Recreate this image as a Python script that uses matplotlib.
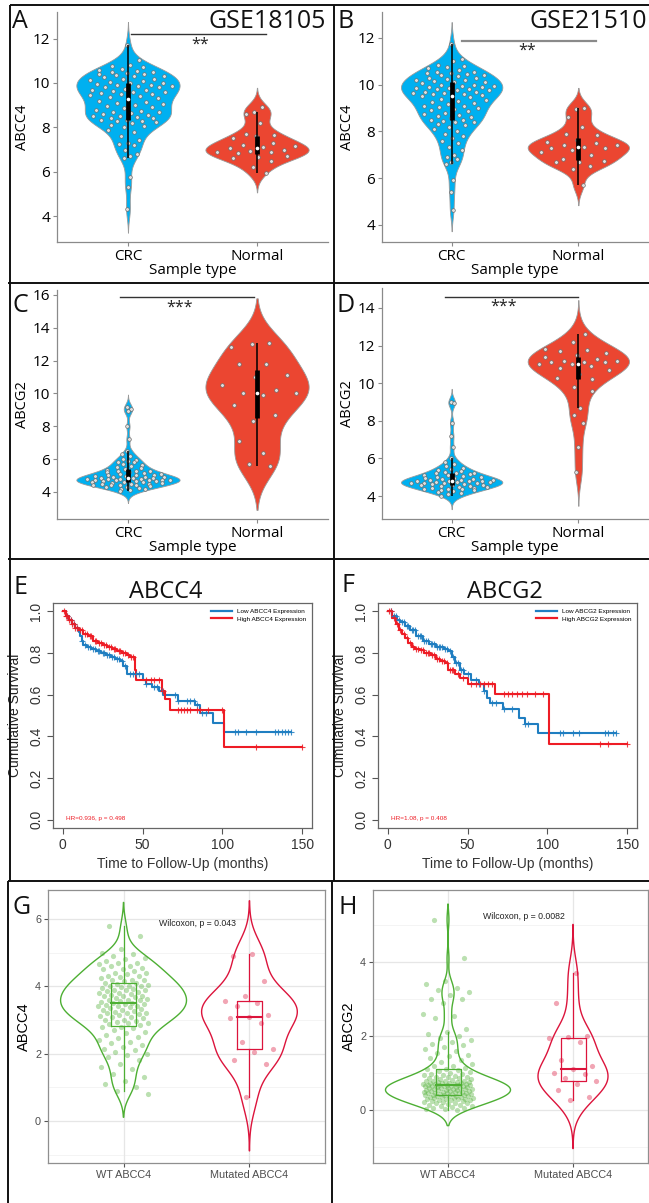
import numpy as np
import matplotlib
matplotlib.use('Agg')
import matplotlib.pyplot as plt
from matplotlib.lines import Line2D

# ---------------- DATA ----------------
sample_types = ['CRC', 'Normal']

# Panel A  (GSE18105, ABCC4)
a_crc = [11.7, 11.05, 10.8, 10.75, 10.7, 10.65, 10.6, 10.55, 10.5, 10.5, 10.45, 10.4, 10.4, 10.35, 10.3,
         10.3, 10.25, 10.2, 10.2, 10.15, 10.1, 10.05, 10.0, 10.0, 9.95, 9.9, 9.9, 9.85, 9.85, 9.8, 9.8,
         9.75, 9.7, 9.7, 9.65, 9.6, 9.6, 9.55, 9.5, 9.5, 9.45, 9.4, 9.35, 9.3, 9.25, 9.2, 9.15, 9.1, 9.05,
         9.0, 8.95, 8.9, 8.85, 8.8, 8.75, 8.7, 8.7, 8.65, 8.6, 8.55, 8.5, 8.5, 8.45, 8.4, 8.4, 8.35, 8.35,
         8.3, 8.3, 8.25, 8.2, 8.1, 8.05, 8.0, 7.9, 7.8, 7.6, 7.45, 7.3, 7.25, 7.2, 7.0, 6.8, 6.7, 6.6,
         5.75, 5.3, 4.3]
a_norm = [8.9, 8.7, 8.6, 8.2, 7.7, 7.65, 7.6, 7.5, 7.3, 7.2, 7.15, 7.1, 7.05, 7.0, 6.95, 6.9, 6.9, 6.85,
          6.7, 6.65, 6.6, 6.5, 6.2, 5.95]

# Panel B  (GSE21510, ABCC4)
b_crc = [11.75, 11.1, 11.0, 10.85, 10.8, 10.75, 10.7, 10.6, 10.55, 10.55, 10.5, 10.5, 10.45, 10.4, 10.4,
         10.35, 10.3, 10.3, 10.25, 10.2, 10.2, 10.15, 10.1, 10.1, 10.05, 10.0, 10.0, 9.95, 9.95, 9.9, 9.9,
         9.85, 9.85, 9.8, 9.8, 9.75, 9.75, 9.7, 9.7, 9.65, 9.65, 9.6, 9.6, 9.55, 9.5, 9.5, 9.45, 9.4, 9.35,
         9.3, 9.25, 9.2, 9.15, 9.1, 9.1, 9.05, 9.0, 8.95, 8.9, 8.85, 8.8, 8.75, 8.7, 8.65, 8.6, 8.55, 8.5,
         8.5, 8.45, 8.4, 8.4, 8.3, 8.25, 8.2, 8.1, 8.0, 7.9, 7.8, 7.7, 7.6, 7.5, 7.35, 7.2, 7.0, 6.9, 6.8,
         6.7, 6.6, 5.9, 5.4, 4.65]
b_norm = [9.0, 8.95, 8.6, 8.2, 7.9, 7.85, 7.65, 7.55, 7.5, 7.4, 7.4, 7.35, 7.3, 7.3, 7.2, 7.1, 7.0, 6.8,
          6.75, 6.7, 6.7, 6.5, 6.4, 5.7]

# Panel C  (ABCG2, GSE18105)
c_crc = [9.2, 9.05, 8.9, 8.0, 7.2, 6.5, 6.3, 6.2, 6.0, 5.95, 5.9, 5.85, 5.8, 5.7, 5.65, 5.6, 5.5, 5.45,
         5.4, 5.35, 5.3, 5.3, 5.25, 5.2, 5.2, 5.15, 5.1, 5.1, 5.05, 5.0, 5.0, 4.95, 4.95, 4.9, 4.9, 4.9,
         4.85, 4.85, 4.85, 4.8, 4.8, 4.8, 4.8, 4.75, 4.75, 4.75, 4.7, 4.7, 4.7, 4.65, 4.65, 4.65, 4.6, 4.6,
         4.6, 4.55, 4.55, 4.5, 4.5, 4.5, 4.45, 4.45, 4.4, 4.4, 4.35, 4.3, 4.3, 4.25, 4.2, 4.15, 4.1, 4.05]
c_norm = [13.1, 13.0, 12.8, 11.8, 11.8, 11.1, 11.0, 10.5, 10.2, 10.0, 10.0, 9.9, 9.3, 8.7, 8.3, 7.1, 6.4,
          5.7, 5.6]

# Panel D  (ABCG2, GSE21510)
d_crc = [9.0, 8.95, 7.9, 7.2, 6.6, 6.0, 5.8, 5.7, 5.6, 5.5, 5.45, 5.4, 5.35, 5.3, 5.25, 5.2, 5.2, 5.15,
         5.1, 5.1, 5.05, 5.0, 5.0, 4.95, 4.95, 4.9, 4.9, 4.85, 4.85, 4.85, 4.8, 4.8, 4.8, 4.8, 4.75, 4.75,
         4.75, 4.7, 4.7, 4.7, 4.7, 4.65, 4.65, 4.6, 4.6, 4.6, 4.55, 4.55, 4.5, 4.5, 4.45, 4.45, 4.4, 4.4,
         4.35, 4.3, 4.3, 4.25, 4.2, 4.15, 4.1, 4.0]
d_norm = [12.6, 12.2, 11.8, 11.75, 11.7, 11.6, 11.5, 11.4, 11.3, 11.2, 11.2, 11.15, 11.1, 11.1, 11.0,
          11.0, 10.9, 10.8, 10.7, 10.5, 10.3, 10.2, 9.8, 9.6, 8.7, 8.3, 7.9, 6.6, 5.3]

# Panel E  (survival, ABCC4)
e_low_t = [0, 2, 4, 6, 8, 10, 11, 12, 13, 15, 18, 21, 24, 27, 30, 33, 36, 38, 40, 50, 52, 56, 60, 63,
           72, 83, 86, 94, 101, 143]
e_low_s = [1.0, 0.98, 0.96, 0.94, 0.92, 0.90, 0.88, 0.86, 0.84, 0.83, 0.82, 0.81, 0.80, 0.79, 0.78,
           0.77, 0.76, 0.74, 0.70, 0.67, 0.65, 0.635, 0.62, 0.60, 0.57, 0.55, 0.51, 0.465, 0.42, 0.42]
e_low_c = [3, 5, 7, 9, 12, 14, 16, 17, 19, 20, 22, 23, 25, 26, 28, 29, 31, 32, 34, 35, 37, 39, 42, 44,
           46, 48, 52, 57, 59, 62, 70, 72, 78, 80, 82, 84, 87, 90, 108, 110, 115, 121, 133, 135, 137,
           139, 141, 143]
e_high_t = [0, 2, 4, 6, 8, 10, 13, 16, 19, 22, 25, 28, 31, 34, 37, 40, 42, 45, 46, 62, 64, 67, 101, 150]
e_high_s = [1.0, 0.98, 0.96, 0.94, 0.92, 0.91, 0.89, 0.88, 0.86, 0.85, 0.84, 0.83, 0.82, 0.81, 0.80,
            0.79, 0.78, 0.72, 0.67, 0.62, 0.58, 0.525, 0.35, 0.35]
e_high_c = [1, 2, 3, 4, 5, 6, 7, 8, 9, 11, 12, 14, 15, 17, 18, 20, 21, 23, 24, 26, 27, 29, 30, 32, 33,
            35, 36, 38, 39, 41, 43, 44, 52, 55, 57, 60, 63, 72, 74, 76, 78, 80, 84, 86, 91, 100, 121, 150]

# Panel F  (survival, ABCG2)
f_low_t = [0, 3, 6, 8, 11, 14, 18, 22, 26, 30, 35, 38, 40, 42, 45, 48, 52, 57, 60, 62, 64, 72, 82, 86,
           94, 143]
f_low_s = [1.0, 0.98, 0.96, 0.95, 0.93, 0.91, 0.88, 0.86, 0.845, 0.83, 0.82, 0.81, 0.78, 0.75, 0.72,
           0.70, 0.67, 0.65, 0.62, 0.585, 0.56, 0.53, 0.49, 0.46, 0.415, 0.415]
f_low_c = [2, 4, 5, 7, 9, 10, 12, 13, 15, 16, 17, 19, 20, 21, 23, 24, 25, 27, 28, 29, 31, 32, 33, 34,
           36, 37, 39, 41, 43, 44, 46, 47, 50, 55, 57, 60, 65, 68, 73, 78, 86, 88, 108, 110, 116, 120,
           136, 138, 141, 143]
f_high_t = [0, 3, 5, 7, 9, 11, 13, 15, 17, 20, 23, 27, 30, 33, 36, 38, 42, 45, 50, 67, 101, 150]
f_high_s = [1.0, 0.97, 0.94, 0.91, 0.89, 0.87, 0.85, 0.83, 0.82, 0.815, 0.80, 0.79, 0.77, 0.76, 0.75,
            0.72, 0.70, 0.68, 0.65, 0.605, 0.365, 0.365]
f_high_c = [1, 2, 4, 6, 8, 10, 12, 14, 16, 18, 19, 21, 22, 24, 25, 26, 28, 29, 31, 32, 34, 35, 37, 39,
            40, 41, 44, 47, 52, 55, 58, 60, 63, 65, 73, 75, 78, 81, 84, 87, 92, 97, 133, 138, 150]

# Panel G  (ABCC4 by ABCC4 mutation)
mut_groups = ['WT ABCC4', 'Mutated ABCC4']
g_wt = [5.8, 5.5, 5.1, 5.0, 4.95, 4.9, 4.85, 4.8, 4.75, 4.7, 4.7, 4.65, 4.6, 4.6, 4.55, 4.5, 4.5, 4.45,
        4.4, 4.4, 4.35, 4.3, 4.3, 4.28, 4.25, 4.2, 4.2, 4.18, 4.15, 4.1, 4.1, 4.08, 4.05, 4.02, 4.0, 4.0,
        3.98, 3.95, 3.92, 3.9, 3.9, 3.88, 3.85, 3.82, 3.8, 3.8, 3.78, 3.75, 3.72, 3.7, 3.7, 3.68, 3.65,
        3.62, 3.6, 3.6, 3.58, 3.55, 3.52, 3.5, 3.5, 3.48, 3.48, 3.45, 3.42, 3.4, 3.4, 3.38, 3.35, 3.32,
        3.3, 3.3, 3.28, 3.25, 3.22, 3.2, 3.2, 3.18, 3.15, 3.12, 3.1, 3.1, 3.05, 3.0, 3.0, 2.98, 2.95, 2.92,
        2.9, 2.88, 2.85, 2.8, 2.78, 2.75, 2.7, 2.65, 2.6, 2.55, 2.5, 2.45, 2.4, 2.35, 2.3, 2.25, 2.2, 2.15,
        2.1, 2.05, 2.0, 1.95, 1.9, 1.8, 1.7, 1.6, 1.55, 1.4, 1.3, 1.2, 1.1, 1.0, 0.9, 0.8]
g_mut = [4.95, 4.9, 4.15, 3.7, 3.55, 3.5, 3.4, 3.15, 3.1, 3.05, 2.9, 2.35, 2.15, 2.05, 1.8, 1.7, 0.7]

# Panel H  (ABCG2 by ABCC4 mutation)
h_wt = [5.15, 4.1, 3.5, 3.4, 3.3, 3.25, 3.2, 3.1, 3.0, 3.0, 2.9, 2.6, 2.55, 2.5, 2.2, 2.1, 2.05, 2.0,
        1.95, 1.9, 1.85, 1.8, 1.75, 1.7, 1.65, 1.6, 1.55, 1.5, 1.45, 1.4, 1.35, 1.3, 1.25, 1.2, 1.18, 1.15,
        1.12, 1.1, 1.08, 1.05, 1.02, 1.0, 0.98, 0.97, 0.95, 0.94, 0.92, 0.9, 0.9, 0.89, 0.88, 0.86, 0.85,
        0.84, 0.82, 0.8, 0.8, 0.79, 0.78, 0.77, 0.76, 0.75, 0.74, 0.73, 0.72, 0.72, 0.71, 0.7, 0.7, 0.7,
        0.69, 0.69, 0.69, 0.68, 0.67, 0.66, 0.66, 0.65, 0.64, 0.64, 0.63, 0.62, 0.62, 0.61, 0.6, 0.6, 0.59,
        0.58, 0.57, 0.57, 0.56, 0.55, 0.55, 0.54, 0.53, 0.52, 0.52, 0.51, 0.5, 0.5, 0.49, 0.48, 0.47, 0.47,
        0.46, 0.45, 0.45, 0.44, 0.43, 0.43, 0.42, 0.41, 0.4, 0.4, 0.39, 0.38, 0.38, 0.37, 0.36, 0.35, 0.35,
        0.34, 0.33, 0.32, 0.31, 0.3, 0.3, 0.29, 0.28, 0.27, 0.26, 0.25, 0.24, 0.23, 0.22, 0.2, 0.19, 0.18,
        0.16, 0.15, 0.13, 0.12, 0.1, 0.08, 0.06, 0.05, 0.03, 0.02, 0.0]
h_mut = [3.7, 2.9, 2.0, 1.97, 1.95, 1.85, 1.35, 1.2, 1.1, 1.0, 0.98, 0.88, 0.78, 0.7, 0.55, 0.35, 0.28]

# ---------------- STYLE / LAYOUT ----------------
W, H = 649, 1203
fig = plt.figure(figsize=(W / 100, H / 100), dpi=100)
MFONT = 'Open Sans'
RFONT = 'Liberation Sans'
BLUE_V, RED_V = '#00B0F0', '#EB4631'
BLUE_K, RED_K = '#1F7EC1', '#EE1C25'
GREEN_G, RED_G = '#4DAF33', '#DC143C'


def axpix(x0, y0, x1, y1):
    return fig.add_axes([x0 / W, 1 - y1 / H, (x1 - x0) / W, (y1 - y0) / H])


def spread(n, phase):
    # deterministic, evenly spread horizontal positions for jittered points
    return (np.arange(n) * 0.6180339887 + phase) % 1.0


def kde(d, bw, cut, n=400):
    g = np.linspace(d.min() - cut * bw, d.max() + cut * bw, n)
    den = np.exp(-0.5 * ((g[:, None] - d[None, :]) / bw) ** 2).sum(1)
    return g, den / den.max()


def matlab_violin(ax, data, pos, color, bwcut, hw=0.4, phase=0.3):
    d = np.asarray(data, float)
    g, den = kde(d, bwcut[0], bwcut[1])
    ax.fill_betweenx(g, pos - hw * den, pos + hw * den, facecolor=color,
                     edgecolor='#9a9a9a', lw=0.6, zorder=2)
    dd = np.interp(d, g, den)
    x = pos + (2 * spread(len(d), phase) - 1) * hw * dd * 0.85
    ax.scatter(x, d, s=7, facecolor='#dedede', edgecolor='#666666', lw=0.45, zorder=3)
    q1, med, q3 = np.percentile(d, [25, 50, 75])
    iqr = q3 - q1
    lo = d[d >= q1 - 1.5 * iqr].min()
    hi = d[d <= q3 + 1.5 * iqr].max()
    ax.plot([pos, pos], [lo, hi], color='k', lw=1.1, zorder=4, solid_capstyle='butt')
    ax.plot([pos, pos], [q1, q3], color='k', lw=3.4, zorder=5, solid_capstyle='butt')
    ax.scatter([pos], [med], s=7, color='white', lw=0, zorder=6)


def matlab_panel(ax, crc, norm, bws, ylim, yticks, ylabel, sig_x, sig_y, star_x, stars,
                 sig_color='#333333', sig_lw=1.0):
    ax.set_xlim(0.45, 2.55)
    ax.set_ylim(*ylim)
    matlab_violin(ax, crc, 1, BLUE_V, bws[0], phase=0.31)
    matlab_violin(ax, norm, 2, RED_V, bws[1], phase=0.77)
    ax.plot(sig_x, [sig_y, sig_y], color=sig_color, lw=sig_lw, zorder=1)
    ax.annotate(stars, xy=(star_x, sig_y), xytext=(0, -1.5), textcoords='offset points',
                ha='center', va='top', fontsize=11.5, family=MFONT, color='#222222')
    for s in ['top', 'right']:
        ax.spines[s].set_visible(False)
    for s in ['left', 'bottom']:
        ax.spines[s].set_color('#8a8a8a')
        ax.spines[s].set_linewidth(0.9)
    ax.set_xticks([1, 2])
    ax.set_xticklabels(sample_types, fontsize=11, family=MFONT)
    ax.set_yticks(yticks)
    ax.set_yticklabels([str(v) for v in yticks], fontsize=11, family=MFONT)
    ax.tick_params(axis='both', direction='out', length=3, color='#8a8a8a', pad=2)
    ax.set_ylabel(ylabel, fontsize=10.5, family=MFONT, labelpad=2)
    ax.set_xlabel('Sample type', fontsize=11, family=MFONT, labelpad=-1)
    ax.patch.set_visible(False)


def km_panel(ax, curves, gene, hr_text):
    ax.set_xlim(-6, 156)
    ax.set_ylim(-0.04, 1.04)
    for t, s, c, col in curves:
        t = np.asarray(t, float)
        s = np.asarray(s, float)
        ax.step(t, s, where='post', color=col, lw=1.5, zorder=3)
        c = np.asarray(c, float)
        idx = np.searchsorted(t, c, side='right') - 1
        ax.plot(c, s[idx], '+', color=col, ms=5, mew=0.8, zorder=4, alpha=0.85)
    ax.set_xticks([0, 50, 100, 150])
    ax.set_xticklabels(['0', '50', '100', '150'], fontsize=10, family=RFONT)
    ax.set_yticks([0, 0.2, 0.4, 0.6, 0.8, 1.0])
    ax.set_yticklabels(['0.0', '0.2', '0.4', '0.6', '0.8', '1.0'], fontsize=10, family=RFONT,
                       rotation=90, va='center')
    ax.tick_params(axis='both', direction='out', length=4, color='#555555', pad=3,
                   labelcolor='#333333')
    for s in ax.spines.values():
        s.set_color('#666666')
        s.set_linewidth(0.9)
    ax.set_xlabel('Time to Follow-Up (months)', fontsize=10, family=RFONT, color='#333333',
                  labelpad=4)
    ax.set_ylabel('Cumulative Survival', fontsize=10, family=RFONT, color='#222222', labelpad=5)
    handles = [Line2D([], [], color=BLUE_K, lw=1.6), Line2D([], [], color=RED_K, lw=1.6)]
    ax.legend(handles, ['Low %s Expression' % gene, 'High %s Expression' % gene],
              loc='upper right', frameon=False, prop={'family': RFONT, 'size': 4.6},
              handlelength=3.2, handletextpad=0.8, labelspacing=0.3, borderaxespad=0.5)
    ax.text(0.05, 0.03, hr_text, transform=ax.transAxes, fontsize=4.6, family=RFONT,
            color=RED_K, ha='left', va='bottom')


def gg_violin(ax, data, pos, color, bwcut, hw, phase):
    d = np.asarray(data, float)
    g, den = kde(d, bwcut[0], bwcut[1])
    ax.fill_betweenx(g, pos - hw * den, pos + hw * den, facecolor='none', edgecolor=color,
                     lw=1.0, zorder=2)
    q1, med, q3 = np.percentile(d, [25, 50, 75])
    iqr = q3 - q1
    lo = d[d >= q1 - 1.5 * iqr].min()
    hi = d[d <= q3 + 1.5 * iqr].max()
    bw_box = 0.1
    ax.plot([pos, pos], [lo, q1], color=color, lw=0.9, zorder=3)
    ax.plot([pos, pos], [q3, hi], color=color, lw=0.9, zorder=3)
    ax.plot([pos - bw_box, pos + bw_box, pos + bw_box, pos - bw_box, pos - bw_box],
            [q1, q1, q3, q3, q1], color=color, lw=0.9, zorder=3)
    ax.plot([pos - bw_box, pos + bw_box], [med, med], color=color, lw=1.5, zorder=3)
    x = pos + (2 * spread(len(d), phase) - 1) * 0.2
    ax.scatter(x, d, s=14, color=color, alpha=0.38, lw=0, zorder=4)


def gg_panel(ax, wt, mut, bws, hws, ylim, yticks, minors, ylabel, ptext, pxy):
    ax.set_xlim(0.4, 2.6)
    ax.set_ylim(*ylim)
    for y in minors:
        ax.axhline(y, color='#F2F2F2', lw=0.6, zorder=0)
    for y in yticks:
        ax.axhline(y, color='#E6E6E6', lw=0.9, zorder=0)
    for x in [1, 2]:
        ax.axvline(x, color='#E6E6E6', lw=0.9, zorder=0)
    gg_violin(ax, wt, 1, GREEN_G, bws[0], hws[0], 0.21)
    gg_violin(ax, mut, 2, RED_G, bws[1], hws[1], 0.55)
    ax.text(pxy[0], pxy[1], ptext, fontsize=6.3, family=RFONT, ha='center', va='center',
            color='#222222')
    ax.set_xticks([1, 2])
    ax.set_xticklabels(mut_groups, fontsize=7.8, family=RFONT)
    ax.set_yticks(yticks)
    ax.set_yticklabels([str(v) for v in yticks], fontsize=7.8, family=RFONT)
    ax.tick_params(axis='both', direction='out', length=3, color='#555555', labelcolor='#4D4D4D',
                   pad=2, width=0.8)
    for s in ax.spines.values():
        s.set_color('#8f8f8f')
        s.set_linewidth(0.9)
    ax.set_ylabel(ylabel, fontsize=10.5, family=RFONT, labelpad=3)


# ---------------- PANELS ----------------
axA = axpix(57, 12, 328, 242)
matlab_panel(axA, a_crc, a_norm, ((0.42, 2.5), (0.34, 2.6)), (2.83, 13.2), [4, 6, 8, 10, 12],
             'ABCC4', (1.02, 2.07), 12.2, 1.56, '**')
axB = axpix(382, 12, 648, 242)
matlab_panel(axB, b_crc, b_norm, ((0.4, 2.3), (0.33, 2.6)), (3.27, 13.1), [4, 6, 8, 10, 12],
             'ABCC4', (1.08, 2.14), 11.87, 1.6, '**', sig_color='#8a8a8a', sig_lw=1.6)
axC = axpix(57, 290, 328, 519)
matlab_panel(axC, c_crc, c_norm, ((0.27, 2.7), (1.1, 2.45)), (2.35, 16.3),
             [4, 6, 8, 10, 12, 14, 16], 'ABCG2', (0.94, 1.98), 15.85, 1.4, '***')
axD = axpix(382, 288, 648, 519)
matlab_panel(axD, d_crc, d_norm, ((0.25, 2.8), (0.7, 2.6)), (2.78, 15.06),
             [4, 6, 8, 10, 12, 14], 'ABCG2', (0.95, 2.0), 14.58, 1.41, '***')

axE = axpix(53, 603, 312, 828)
km_panel(axE, [(e_low_t, e_low_s, e_low_c, BLUE_K), (e_high_t, e_high_s, e_high_c, RED_K)],
         'ABCC4', 'HR=0.936, p = 0.498')
axF = axpix(378, 603, 637, 828)
km_panel(axF, [(f_low_t, f_low_s, f_low_c, BLUE_K), (f_high_t, f_high_s, f_high_c, RED_K)],
         'ABCG2', 'HR=1.08, p = 0.408')

axG = axpix(48, 890, 325, 1163)
gg_panel(axG, g_wt, g_mut, ((0.3, 2.3), (0.53, 3.0)), (0.5, 0.38), (-1.25, 6.86), [0, 2, 4, 6],
         [-1, 1, 3, 5], 'ABCC4', 'Wilcoxon, p = 0.043', (1.59, 5.85))
axH = axpix(373, 890, 648, 1163)
gg_panel(axH, h_wt, h_mut, ((0.21, 2.0), (0.44, 3.0)), (0.5, 0.28), (-1.43, 5.95), [0, 2, 4],
         [-1, 1, 3, 5], 'ABCG2', 'Wilcoxon, p = 0.0082', (1.61, 5.24))

# ---------------- OVERLAY: borders, titles, panel letters ----------------
ov = fig.add_axes([0, 0, 1, 1])
ov.set_xlim(0, W)
ov.set_ylim(H, 0)
ov.axis('off')
ov.patch.set_visible(False)
lk = dict(color='#111111', lw=1.4, solid_capstyle='butt')
ov.plot([10, W], [5, 5], **lk)
ov.plot([10, 10], [5, 881], **lk)
ov.plot([8, 8], [881, H], **lk)
ov.plot([334, 334], [5, 881], **lk)
ov.plot([332, 332], [881, H], **lk)
for yy in [283, 559, 881]:
    ov.plot([8, W], [yy, yy], **lk)

tk = dict(family=MFONT, color='#111111', va='center')
for lab, x, y in [('A', 20, 22), ('B', 346, 22), ('C', 20, 305), ('D', 346, 305),
                  ('E', 20, 587), ('F', 348, 586), ('G', 22, 908), ('H', 348, 908)]:
    ov.text(x, y, lab, fontsize=18, ha='center', **tk)
ov.text(326, 22, 'GSE18105', fontsize=18, ha='right', **tk)
ov.text(647, 22, 'GSE21510', fontsize=18, ha='right', **tk)
ov.text(166, 592, 'ABCC4', fontsize=17, ha='center', **tk)
ov.text(505, 592, 'ABCG2', fontsize=17, ha='center', **tk)

fig.savefig('out.png', dpi=100)
